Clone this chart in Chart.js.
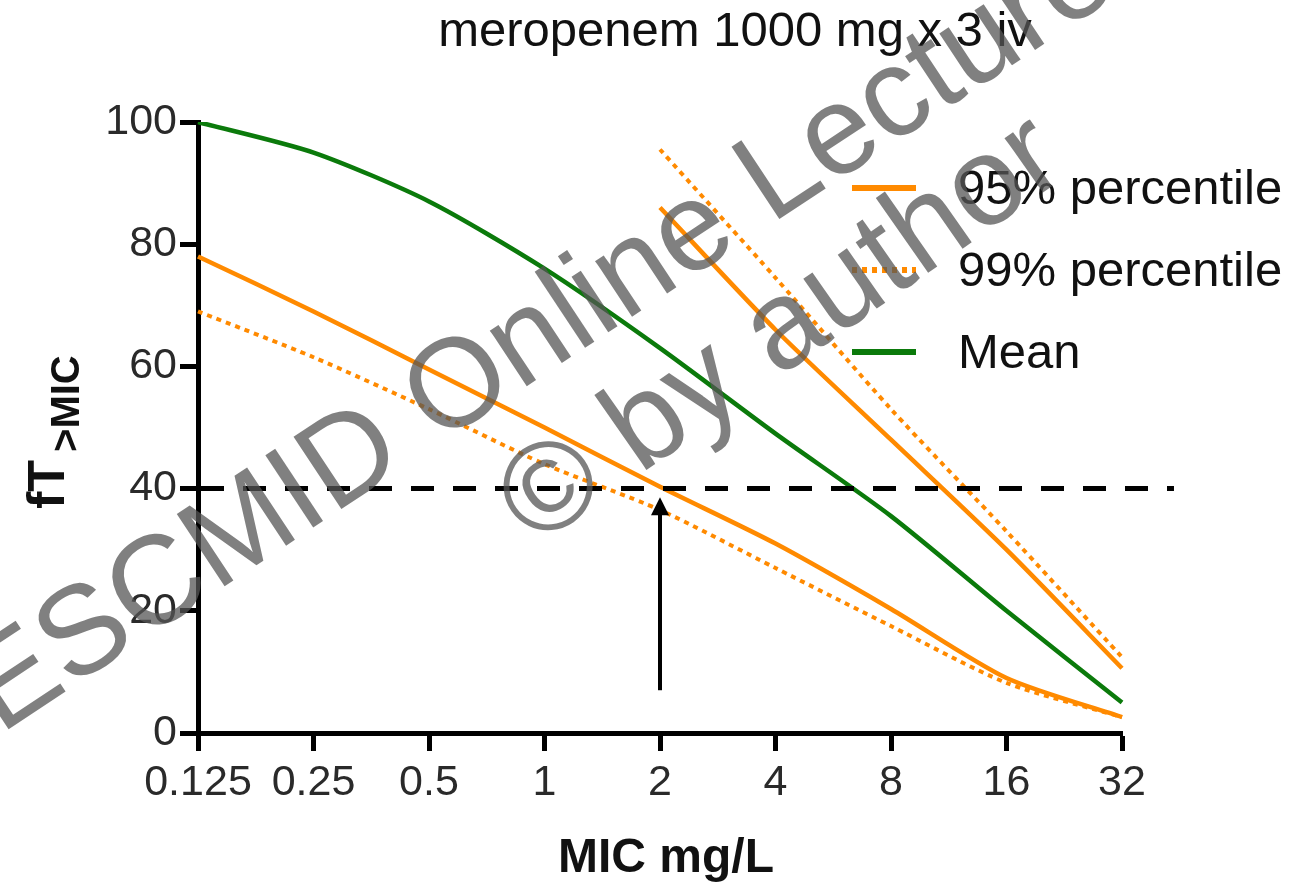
<!DOCTYPE html>
<html>
<head>
<meta charset="utf-8">
<script src="https://cdn.jsdelivr.net/npm/chart.js@4/dist/chart.umd.min.js"></script>
<style>
  html, body { margin: 0; padding: 0; background: #fff; }
  #wrap { width: 1299px; height: 882px; }
</style>
</head>
<body>
<div id="wrap"><canvas id="ptaChart" width="1299" height="882"></canvas></div>
<script>
// =========================================
// DATA
// =========================================

const micLabels = ['0.125', '0.25', '0.5', '1', '2', '4', '8', '16', '32'];

const meanData   = [100, 95, 87, 76, 63, 49, 35.5, 20, 5];
const p95Data    = [78, 69, 59.5, 50, 40.3, 31, 20.3, 9, 2.6];
const p99Data    = [69, 61.5, 53, 44, 36.5, 27, 17.5, 8.2, 2.6];
const p95HighData = [null, null, null, null, 86, 66, 48, 30, 10.6];
const p99HighData = [null, null, null, null, 95.5, 74.5, 53, 33, 12.4];

const yTicks = [0, 20, 40, 60, 80, 100];

const targetValue = 40;      // dashed target line
const targetLineEnd = 8.45;  // category index where the dashed line stops
const arrowMic = 4;          // index of MIC "2"
const arrowFrom = 7;
const arrowTo = 38.6;

// =========================================
// STYLE
// =========================================

const FONT = "'Liberation Sans', Arial, Helvetica, sans-serif";
const ORANGE = '#ff8a00';
const GREEN = '#0b7a0b';

// =========================================
// OVERLAY PLUGIN (target line, arrow, texts, legend, watermark)
// =========================================

const overlay = {
    id: 'overlay',

    afterDatasetsDraw(chart){
        const ctx = chart.ctx;
        const x = chart.scales.x;
        const y = chart.scales.y;

        ctx.save();

        // dashed target line
        const yT = y.getPixelForValue(targetValue);
        ctx.strokeStyle = '#000';
        ctx.lineWidth = 5;
        ctx.setLineDash([23, 19]);
        ctx.beginPath();
        ctx.moveTo(x.getPixelForValue(0) + 3, yT);
        ctx.lineTo(x.getPixelForValue(targetLineEnd), yT);
        ctx.stroke();

        // arrow
        ctx.setLineDash([]);
        const ax = x.getPixelForValue(arrowMic);
        const yBottom = y.getPixelForValue(arrowFrom);
        const yTip = y.getPixelForValue(arrowTo);
        ctx.lineWidth = 4;
        ctx.beginPath();
        ctx.moveTo(ax, yBottom);
        ctx.lineTo(ax, yTip + 14);
        ctx.stroke();
        ctx.fillStyle = '#000';
        ctx.beginPath();
        ctx.moveTo(ax, yTip);
        ctx.lineTo(ax - 9, yTip + 18);
        ctx.lineTo(ax + 9, yTip + 18);
        ctx.closePath();
        ctx.fill();

        ctx.restore();
    },

    afterDraw(chart){
        const ctx = chart.ctx;

        ctx.save();

        // title
        ctx.fillStyle = '#111';
        ctx.font = '49px ' + FONT;
        ctx.textAlign = 'center';
        ctx.textBaseline = 'alphabetic';
        ctx.fillText('meropenem 1000 mg x 3 iv', 735, 46);

        // x axis title
        ctx.font = 'bold 48px ' + FONT;
        ctx.fillText('MIC mg/L', 666, 872);

        // y axis title (rotated, with subscript)
        ctx.save();
        ctx.translate(64, 509);
        ctx.rotate(-Math.PI / 2);
        ctx.textAlign = 'left';
        ctx.font = 'bold 52px ' + FONT;
        ctx.fillText('fT', 0, 0);
        const wMain = ctx.measureText('fT').width;
        ctx.font = 'bold 40px ' + FONT;
        ctx.fillText('>MIC', wMain + 8, 15);
        ctx.restore();

        // legend
        const legendRows = [188, 270, 352];
        ctx.font = '49px ' + FONT;
        ctx.textAlign = 'left';
        ctx.textBaseline = 'middle';
        chart.data.datasets.slice(0, 3).forEach((ds, i) => {
            const ly = legendRows[i];
            ctx.strokeStyle = ds.borderColor;
            ctx.lineWidth = 6;
            ctx.setLineDash(ds.borderDash || []);
            ctx.beginPath();
            ctx.moveTo(852, ly);
            ctx.lineTo(916, ly);
            ctx.stroke();
            ctx.setLineDash([]);
            ctx.fillStyle = '#111';
            ctx.fillText(ds.label, 958, ly + 2);
        });

        // watermark
        ctx.fillStyle = 'rgba(85,85,85,0.75)';
        ctx.font = '126px ' + FONT;
        ctx.textAlign = 'left';
        ctx.textBaseline = 'alphabetic';

        ctx.save();
        ctx.translate(0, 735);
        ctx.rotate(-33.5 * Math.PI / 180);
        ctx.fillText('ESCMID Online Lecture', 0, 0);
        ctx.restore();

        ctx.save();
        ctx.translate(535, 548);
        ctx.rotate(-35 * Math.PI / 180);
        ctx.fillText('\u00A9 by author', 0, 0);
        ctx.restore();

        ctx.restore();
    }
};

// =========================================
// CHART
// =========================================

const ctx = document.getElementById('ptaChart');

const chart = new Chart(ctx, {

    type: 'line',

    data: {
        labels: micLabels,
        datasets: [
            {
                label: '95% percentile',
                data: p95Data,
                borderColor: ORANGE,
                borderWidth: 4.5
            },
            {
                label: '99% percentile',
                data: p99Data,
                borderColor: ORANGE,
                borderWidth: 4,
                borderDash: [5, 5]
            },
            {
                label: 'Mean',
                data: meanData,
                borderColor: GREEN,
                borderWidth: 4.5
            },
            {
                label: '95% percentile ',
                data: p95HighData,
                borderColor: ORANGE,
                borderWidth: 4.5
            },
            {
                label: '99% percentile ',
                data: p99HighData,
                borderColor: ORANGE,
                borderWidth: 4,
                borderDash: [5, 5]
            }
        ]
    },

    options: {
        responsive: false,
        animation: false,
        devicePixelRatio: 1,
        layout: {
            padding: { top: 122, left: 0, right: 177, bottom: 0 }
        },
        elements: {
            point: { radius: 0 },
            line: { tension: 0.25, fill: false }
        },
        plugins: {
            legend: { display: false },
            title: { display: false },
            tooltip: { enabled: false }
        },
        scales: {
            x: {
                type: 'category',
                offset: false,
                afterFit(scale){ scale.height = 149; },
                border: { display: true, color: '#000', width: 5 },
                grid: {
                    drawOnChartArea: false,
                    drawTicks: true,
                    tickLength: 18,
                    tickWidth: 5,
                    tickColor: '#000'
                },
                ticks: {
                    color: '#2a2a2a',
                    padding: 6,
                    maxRotation: 0,
                    autoSkip: false,
                    font: { family: FONT, size: 43 }
                }
            },
            y: {
                min: 0,
                max: 100,
                afterFit(scale){ scale.width = 198; },
                afterBuildTicks(scale){
                    scale.ticks = yTicks.map(v => ({ value: v }));
                },
                border: { display: true, color: '#000', width: 5 },
                grid: {
                    drawOnChartArea: false,
                    drawTicks: true,
                    tickLength: 18,
                    tickWidth: 5,
                    tickColor: '#000'
                },
                ticks: {
                    color: '#2a2a2a',
                    padding: 3,
                    font: { family: FONT, size: 43 }
                }
            }
        }
    },

    plugins: [overlay]
});
</script>
</body>
</html>
